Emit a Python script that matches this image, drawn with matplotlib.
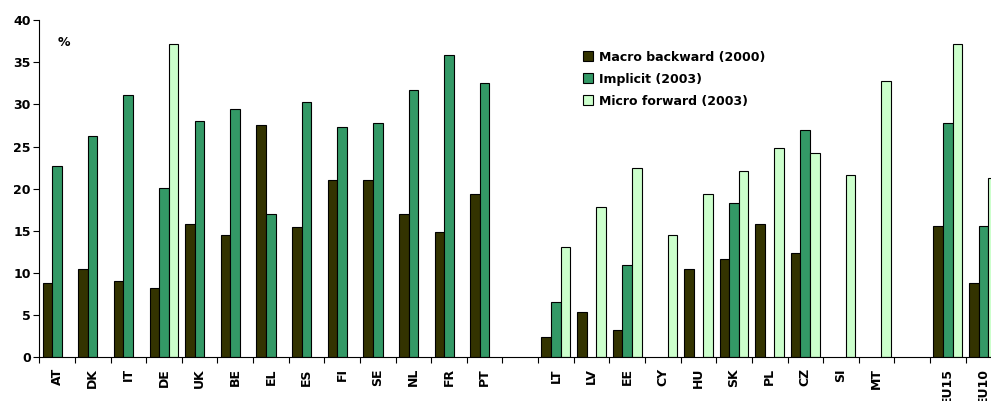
import numpy as np
import matplotlib.pyplot as plt
from matplotlib.ticker import FixedLocator

nan = np.nan

labels = ['AT', 'DK', 'IT', 'DE', 'UK', 'BE', 'EL', 'ES', 'FI', 'SE', 'NL', 'FR', 'PT', '',
          'LT', 'LV', 'EE', 'CY', 'HU', 'SK', 'PL', 'CZ', 'SI', 'MT', '',
          'EU15', 'EU10']

macro_backward = [8.8, 10.5, 9.0, 8.2, 15.8, 14.5, 27.6, 15.4, 21.0, 21.0, 17.0, 14.8, 19.4, nan,
                  2.4, 5.4, 3.2, nan, 10.5, 11.6, 15.8, 12.4, nan, nan, nan,
                  15.6, 8.8]
implicit = [22.7, 26.2, 31.1, 20.1, 28.0, 29.5, 17.0, 30.3, 27.3, 27.8, 31.7, 35.9, 32.6, nan,
            6.5, nan, 10.9, nan, nan, 18.3, nan, 27.0, nan, nan, nan,
            27.8, 15.6]
micro_forward = [nan, nan, nan, 37.2, nan, nan, nan, nan, nan, nan, nan, nan, nan, nan,
                 13.1, 17.8, 22.5, 14.5, 19.4, 22.1, 24.8, 24.2, 21.6, 32.8, nan,
                 37.2, 21.3]

series = [
    ('Macro backward (2000)', macro_backward, '#333300'),
    ('Implicit (2003)', implicit, '#339966'),
    ('Micro forward (2003)', micro_forward, '#CCFFCC'),
]

fig = plt.figure(figsize=(9.91, 4.01), dpi=100)
ax = fig.add_axes([39.3 / 991, 44 / 401, 962 / 991, 336.7 / 401])

x = np.arange(len(labels))
w = 0.27
start = 0.093
for i, (name, vals, col) in enumerate(series):
    ax.bar(x + start + i * w, vals, width=w, align='edge', color=col,
           edgecolor='black', linewidth=0.8, label=name)

ax.set_xlim(0, len(labels))
ax.set_ylim(0, 40)
ax.set_yticks(np.arange(0, 41, 5))
ax.set_yticklabels([str(v) for v in range(0, 41, 5)], fontweight='bold', fontsize=9)

ax.xaxis.set_major_locator(FixedLocator(x + 0.5))
ax.set_xticklabels(labels, rotation=90, fontweight='bold', fontsize=9)
ax.xaxis.set_minor_locator(FixedLocator(np.arange(len(labels) + 1)))
ax.tick_params(axis='x', which='major', length=0, pad=8)
ax.tick_params(axis='x', which='minor', length=4, width=0.8, direction='out')
ax.tick_params(axis='y', length=4, width=0.8, direction='out', pad=2)

ax.spines['top'].set_visible(False)
ax.spines['right'].set_visible(False)

ax.text(0.52, 37.4, '%', fontweight='bold', fontsize=9, va='center')

ax.legend(loc='upper left', bbox_to_anchor=(0.555, 0.94), frameon=False,
          prop={'weight': 'bold', 'size': 9}, handlelength=0.8, handleheight=0.8,
          handletextpad=0.5, labelspacing=0.72, borderpad=0.3)

fig.savefig('out.png', dpi=100)
